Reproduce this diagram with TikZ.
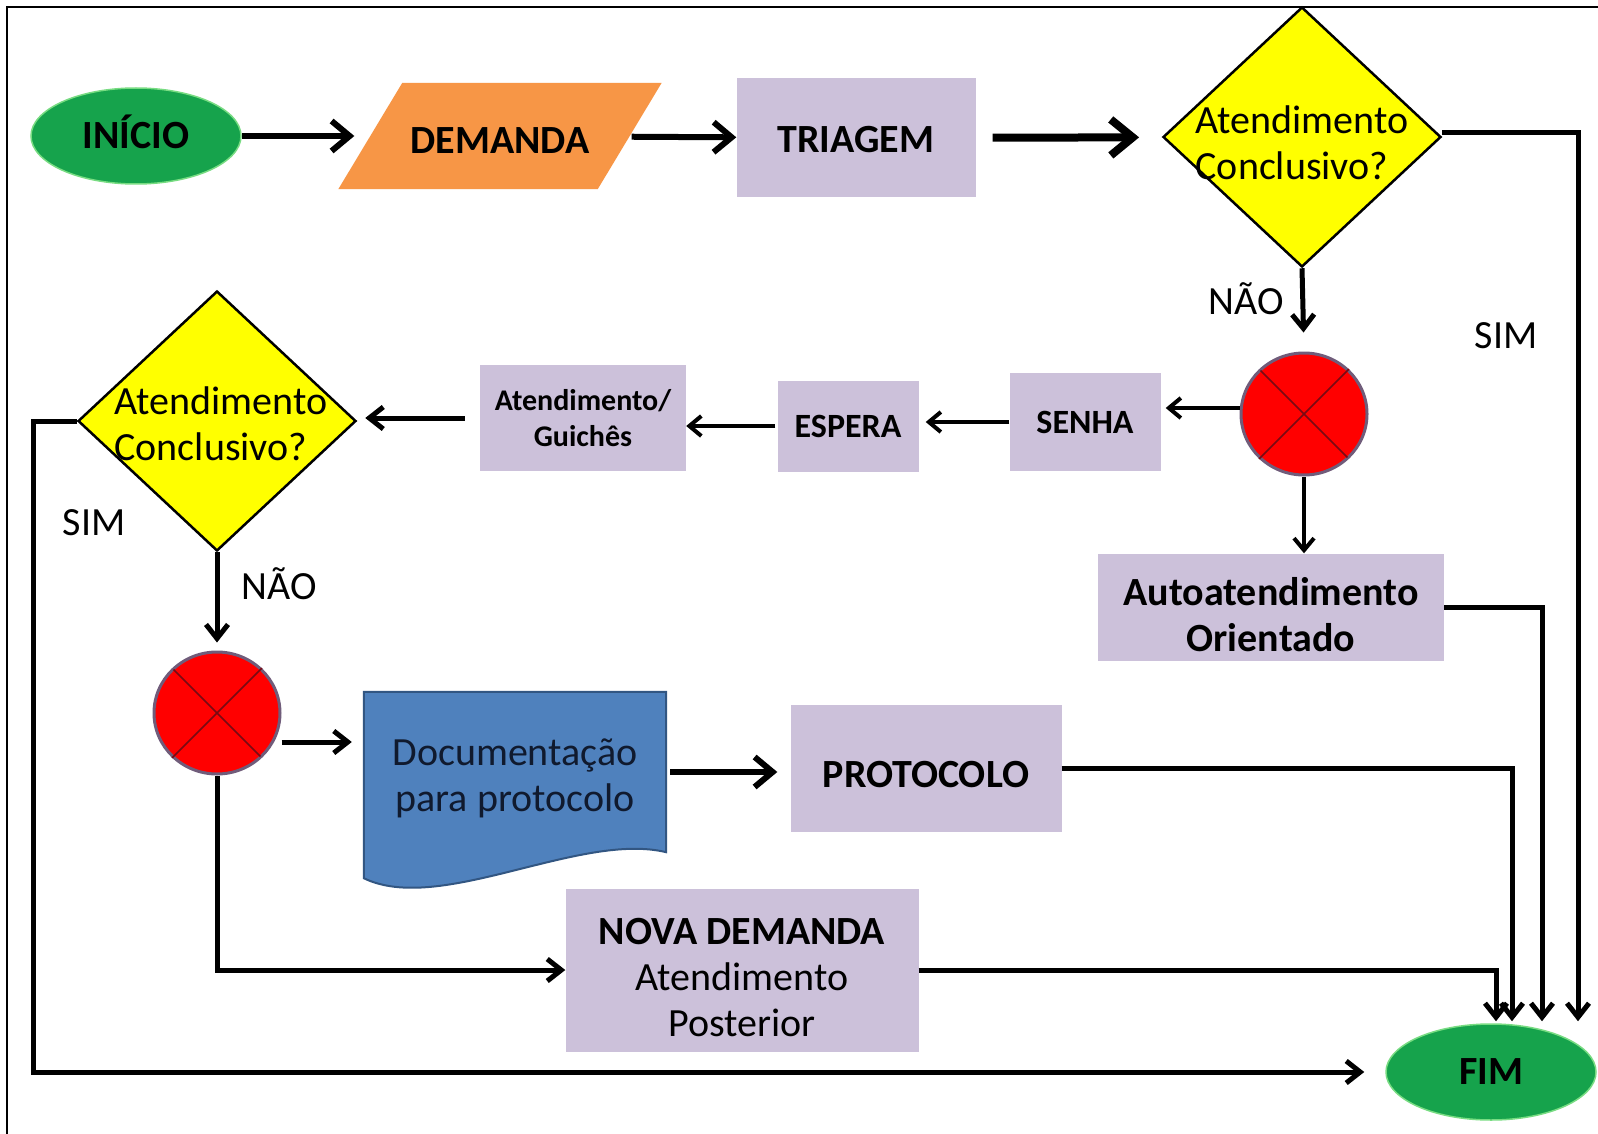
\documentclass[tikz,border=0pt]{standalone}
\usepackage{fontspec}
\setmainfont{Carlito}
\usepackage{tikz}
\usetikzlibrary{arrows.meta,calc,shapes.geometric,backgrounds}
\definecolor{termG}{RGB}{22,163,76}
\definecolor{termE}{RGB}{120,220,130}
\definecolor{inO}{RGB}{247,150,70}
\definecolor{procL}{RGB}{204,193,218}
\definecolor{askY}{RGB}{255,255,0}
\definecolor{gateR}{RGB}{255,0,0}
\definecolor{gateE}{RGB}{112,92,122}
\definecolor{gateX}{RGB}{120,10,20}
\definecolor{docB}{RGB}{79,129,189}
\definecolor{docE}{RGB}{50,86,130}
\definecolor{docT}{RGB}{16,26,46}

\tikzset{
  txt/.style={font=\fontsize{40}{46}\selectfont},
  txtb/.style={font=\fontsize{40}{46}\selectfont\bfseries},
  term/.style={ellipse,fill=termG,draw=termE,line width=1.5pt,minimum width=210pt,minimum height=96pt,inner sep=0pt,txtb},
  proc/.style={rectangle,fill=procL,inner sep=0pt,align=center,txtb},
  ask/.style={diamond,fill=askY,draw=black,line width=2.5pt,inner sep=0pt,minimum width=278pt,minimum height=260pt},
  gate/.style={ellipse,fill=gateR,draw=gateE,line width=3pt,inner sep=0pt,minimum width=126pt,minimum height=122pt},
  flow/.style={line width=5pt,-{Straight Barb[length=14pt,width=22pt]}},
  thinflow/.style={line width=4pt,-{Straight Barb[length=12pt,width=20pt]}},
  midflow/.style={line width=6pt,-{Straight Barb[length=18pt,width=30pt]}},
  bigflow/.style={line width=8pt,-{Straight Barb[length=22pt,width=36pt]}},
}

\begin{document}
\begin{tikzpicture}[x=1pt,y=-1pt]
  \useasboundingbox (0,0) rectangle (1598,1134);
  \begin{scope}[on background layer]
    \fill[white] (0,0) rectangle (1598,1134);
  \end{scope}
  \draw[line width=2pt] (7,1134) -- (7,7) -- (1598,7);

  % first row
  \node[term,text height=26pt,text depth=0pt] (ini) at (136,136) {INÍCIO};
  \node[txtb,minimum width=259pt,minimum height=106pt,inner sep=0pt,text height=35pt,text depth=0pt] (dem) at (500,136) {DEMANDA};
  \begin{scope}[on background layer]
    \fill[inO] ($(dem.north west)+(32,0)$) -- ($(dem.north east)+(32,0)$)
      -- ($(dem.south east)+(-32,0)$) -- ($(dem.south west)+(-32,0)$) -- cycle;
  \end{scope}
  \node[proc,minimum width=239pt,minimum height=119pt,text height=30pt,text depth=0pt] (tri) at (856,138) {TRIAGEM};
  \node[ask] (dec1) at (1302,137) {};
  \node[txt,align=left] (q1) at (1302,143) {Atendimento\\Conclusivo?};

  % second row
  \node[gate] (c1) at (1304,414) {};
  \node[proc,minimum width=151pt,minimum height=98pt,font=\fontsize{34}{40}\selectfont\bfseries] (sen) at (1085,422) {SENHA};
  \node[proc,minimum width=141pt,minimum height=91pt,font=\fontsize{34}{40}\selectfont\bfseries] (esp) at (848,426) {ESPERA};
  \node[proc,minimum width=206pt,minimum height=106pt,font=\fontsize{30}{36}\selectfont\bfseries] (gui) at (583,418) {Atendimento/\\Guichês};
  \node[ask] (dec2) at (217,421) {};
  \node[txt,align=left] (q2) at (221,424) {Atendimento\\Conclusivo?};
  \node[proc,minimum width=346pt,minimum height=107pt,text height=89pt] (aut) at (1271,607) {Autoatendimento\\Orientado};

  % third row
  \node[gate] (c2) at (217,713) {};
  \node[txt,align=center,text=docT,minimum width=302pt,minimum height=160pt,inner sep=0pt,text height=85pt] (doc) at (515,772) {Documentação\\para protocolo};
  \begin{scope}[on background layer]
    \filldraw[fill=docB,draw=docE,line width=2pt] (doc.north west) -- (doc.north east) -- (doc.south east)
      .. controls ($(doc.south east)+(-86,-21)$) and ($(doc.south west)+(76,63)$) .. ($(doc.south west)+(0,26)$) -- cycle;
  \end{scope}
  \node[proc,minimum width=271pt,minimum height=127pt,text height=39pt,text depth=0pt] (pro) at (926,768) {PROTOCOLO};
  \node[proc,txt,minimum width=353pt,minimum height=163pt,text height=134pt] (nov) at (742,970) {\textbf{NOVA DEMANDA}\\Atendimento\\Posterior};
  \node[term] (fim) at (1491,1072) {FIM};

  \foreach \g in {c1,c2}
    \draw[gateX,line width=1.5pt,shorten <=2pt,shorten >=2pt] (\g.45) -- (\g.225) (\g.135) -- (\g.315);

  % labels
  \node[txt] (n1) at (1246,299) {NÃO};
  \node[txt] (s1) at (1506,336) {SIM};
  \node[txt] (s2) at (94,523) {SIM};
  \node[txt] (n2) at (279,584) {NÃO};

  % entries into FIM
  \coordinate (fin1) at ($(fim.north)+(5,-2)$);
  \coordinate (fin2) at ($(fim.north)+(21,-2)$);
  \coordinate (fin3) at ($(fim.north)+(51,-2)$);
  \coordinate (fin4) at ($(fim.north)+(87,-2)$);

  % arrows
  \draw[midflow,shorten >=16pt] (ini) -- (dem);
  \draw[midflow,shorten <=2pt] (dem) -- (tri);
  \draw[bigflow,shorten <=17pt,shorten >=23pt] (tri) -- (dec1);
  \draw[flow] ([yshift=4pt]dec1.east) -| (fin4);
  \draw[flow,shorten >=19pt] (dec1.south) -- (c1.north);
  \draw[thinflow,shorten >=5pt] ([yshift=6pt]c1.west) -- ([yshift=6pt]c1.west -| sen.east);
  \draw[thinflow,shorten >=7pt] (sen.west) -- (sen.west -| esp.east);
  \draw[thinflow,shorten <=2pt] (esp.west) -- (esp.west -| gui.east);
  \draw[flow,shorten <=15pt,shorten >=8pt] (gui.west) -- (gui.west -| dec2.east);
  \draw[flow,shorten >=21pt] (dec2.west) -- ++(-43,0) |- (fim.west);
  \draw[flow,shorten >=8pt] (dec2.south) -- (c2.north);
  \draw[thinflow] (c1.south) -- (c1.south |- aut.north);
  \draw[flow] (aut.east) -| (fin3);
  \draw[flow,shorten >=12pt] ([yshift=-29pt]c2.east) -- ([yshift=-29pt]c2.east -| doc.west);
  \draw[midflow,shorten <=4pt,shorten >=13pt] (doc.east) -- (doc.east -| pro.west);
  \draw[flow] (pro.east) -| (fin2);
  \draw[flow] (c2.south) |- (nov.west);
  \draw[flow] (nov.east) -| (fin1);
\end{tikzpicture}
\end{document}
